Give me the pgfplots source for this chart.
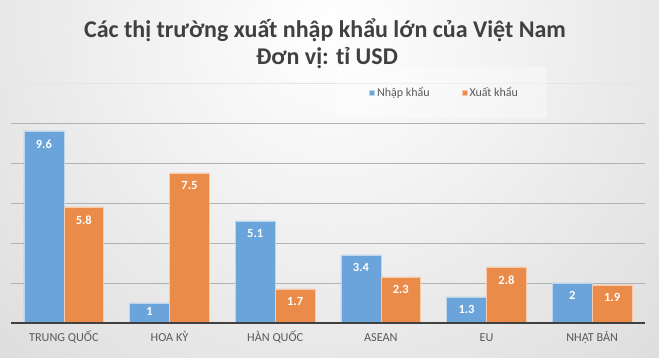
\documentclass[border=0pt]{standalone}
\usepackage{fontspec}
\setmainfont{Carlito}
\usepackage{pgfplots}
\pgfplotsset{compat=1.18}
\definecolor{bblue}{HTML}{6AA4DA}
\definecolor{borange}{HTML}{EB8B4A}
\definecolor{txt}{HTML}{404040}
\definecolor{lbl}{HTML}{595959}
\begin{document}
\begin{tikzpicture}[x=1pt,y=1pt]
\useasboundingbox (0,0) rectangle (659,358);
\begin{scope}
\clip (0,0) rectangle (659,358);
\shade[inner color=white, outer color=black!28] (330,330) circle (1000);
\end{scope}
\draw[black!10, line width=0.8pt] (10,275) -- (645,275);
\fill[white, opacity=0.35] (337,240) rectangle (547,291);
\node[font=\bfseries\fontsize{24}{28}\selectfont, text=txt] at (325,328) {Các thị trường xuất nhập khẩu lớn của Việt Nam};
\node[font=\bfseries\fontsize{24}{28}\selectfont, text=txt] at (327,300) {Đơn vị: tỉ USD};
\begin{axis}[
  at={(11pt,35pt)}, anchor=south west,
  scale only axis, width=634pt, height=200pt,
  xmin=-0.5, xmax=5.5, ymin=0, ymax=10,
  clip=false,
  axis line style={draw=none},
  ytick={2,4,6,8,10}, yticklabels={},
  ymajorgrids, grid style={draw=black!30, line width=0.8pt},
  xtick={0,1,2,3,4,5},
  xticklabels={TRUNG QUỐC, HOA KỲ, HÀN QUỐC, ASEAN, EU, NHẬT BẢN},
  major tick length=0pt,
  xticklabel style={font=\fontsize{12.2}{14}\selectfont, text=lbl, anchor=base, yshift=-19pt},
  ybar, bar width=0.378,
  /pgf/number format/assume math mode=true,
  nodes near coords,
  visualization depends on=rawy \as \rawy,
  every node near coord/.append style={font=\bfseries\fontsize{12.5}{14}\selectfont, text=white, anchor=north, yshift={(\rawy<1.2 ? -0.3 : -5)*1pt}},
  legend style={at={(axis description cs:0.684,1.152)}, anchor=center, draw=none, fill=none,
    font=\fontsize{12}{14}\selectfont, text=lbl,
    /tikz/every even column/.append style={column sep=30pt}},
  legend columns=2,
  legend image code/.code={\fill[#1] (0pt,-2.6pt) rectangle (5.2pt,2.6pt);},
]
\addplot[fill=bblue, draw=white!55!bblue, line width=0.6pt, bar shift=-0.189] coordinates {(0,9.6) (1,1) (2,5.1) (3,3.4) (4,1.3) (5,2)};
\addplot[fill=borange, draw=white!55!borange, line width=0.6pt, bar shift=0.189] coordinates {(0,5.8) (1,7.5) (2,1.7) (3,2.3) (4,2.8) (5,1.9)};
\legend{Nhập khẩu, Xuất khẩu}
\draw[black!75, line width=1.6pt] (axis cs:-0.5,0) -- (axis cs:5.5,0);
\end{axis}
\end{tikzpicture}
\end{document}
